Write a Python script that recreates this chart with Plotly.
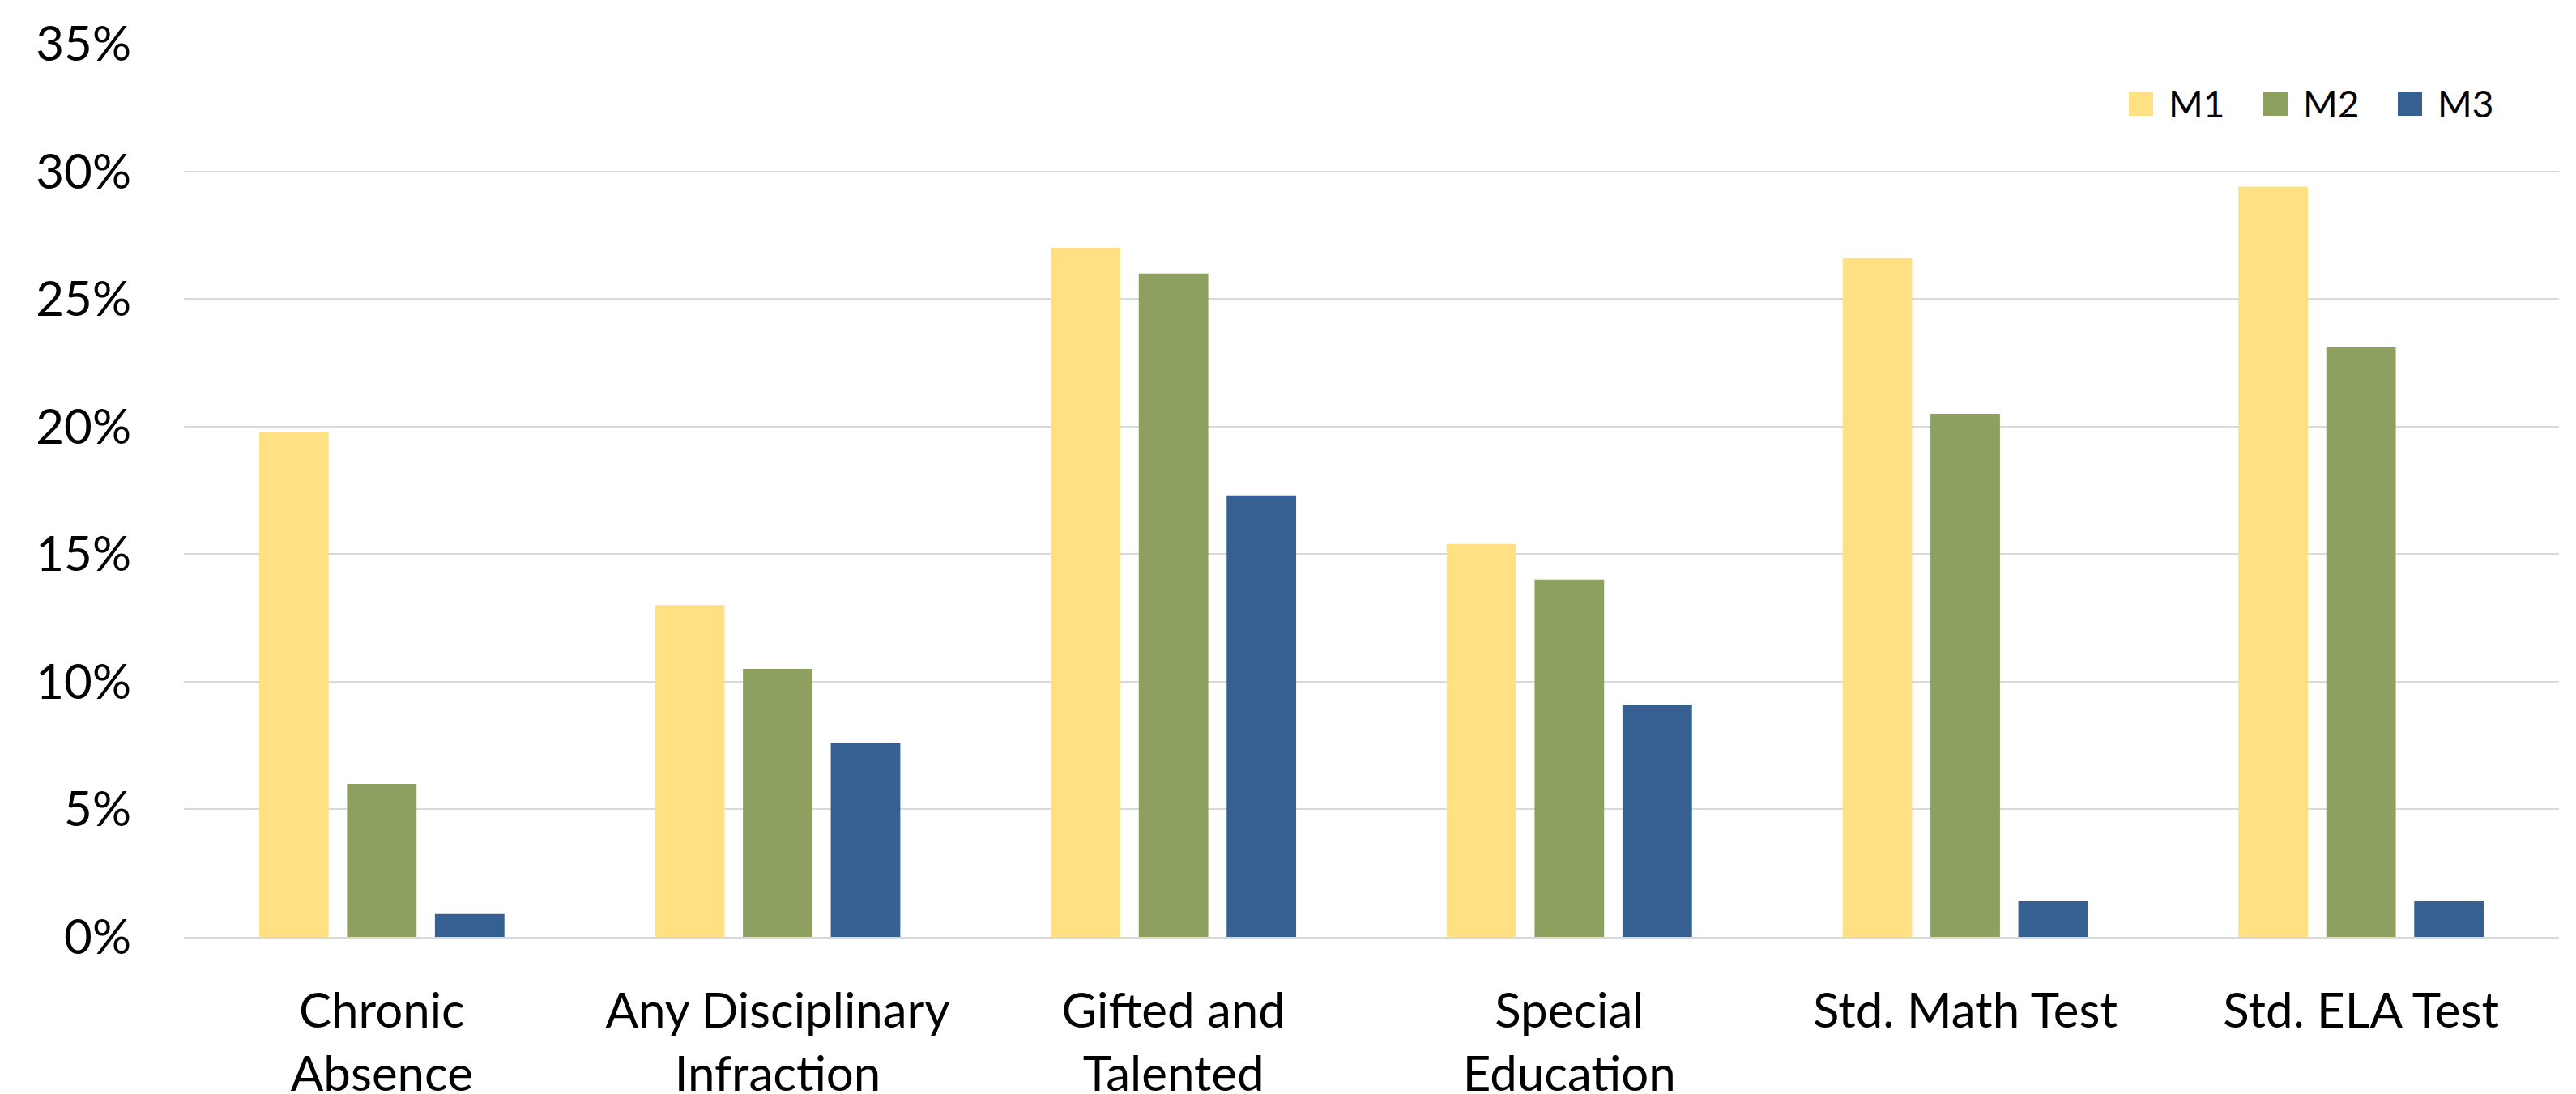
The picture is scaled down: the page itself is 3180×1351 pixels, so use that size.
import plotly.graph_objects as go

# Outcome categories (x-axis) and the share for each model
categories = [
    "Chronic<br>Absence",
    "Any Disciplinary<br>Infraction",
    "Gifted and<br>Talented",
    "Special<br>Education",
    "Std. Math Test",
    "Std. ELA Test",
]
series_names = ["M1", "M2", "M3"]
m1_values = [19.8, 13.0, 27.0, 15.4, 26.6, 29.4]
m2_values = [6.0, 10.5, 26.0, 14.0, 20.5, 23.1]
m3_values = [0.9, 7.6, 17.3, 9.1, 1.4, 1.4]
series_values = [m1_values, m2_values, m3_values]
series_colors = ["#FFE083", "#8EA05F", "#366092"]

y_ticks = [0, 5, 10, 15, 20, 25, 30, 35]
y_tick_labels = [f"{v}%" for v in y_ticks]

FONT = "Lato"
W, H = 3180, 1351
M_LEFT, M_RIGHT, M_TOP, M_BOTTOM = 227, 21, 54, 194
PLOT_W = W - M_LEFT - M_RIGHT
PLOT_H = H - M_TOP - M_BOTTOM

fig = go.Figure()
for name, vals, color in zip(series_names, series_values, series_colors):
    fig.add_trace(go.Bar(
        x=categories, y=vals, name=name,
        marker=dict(color=color, line=dict(width=0)),
        showlegend=False,
    ))

# Legend drawn as large square swatches with labels, top right
def px_to_paper_x(px):
    return (px - M_LEFT) / PLOT_W

def px_to_paper_y(py):
    return (H - M_BOTTOM - py) / PLOT_H

legend_x0 = 2628
legend_step = 166
swatch = 30
legend_cy = 128
shapes = []
annotations = []
for i, (name, color) in enumerate(zip(series_names, series_colors)):
    x0 = legend_x0 + i * legend_step
    shapes.append(dict(
        type="rect", xref="paper", yref="paper",
        x0=px_to_paper_x(x0), x1=px_to_paper_x(x0 + swatch),
        y0=px_to_paper_y(legend_cy + swatch / 2), y1=px_to_paper_y(legend_cy - swatch / 2),
        fillcolor=color, line=dict(width=0),
    ))
    annotations.append(dict(
        xref="paper", yref="paper",
        x=px_to_paper_x(x0 + swatch + 17), y=px_to_paper_y(legend_cy),
        xanchor="left", yanchor="middle", showarrow=False,
        text=name, font=dict(family=FONT, size=46, color="#000000"),
    ))

fig.update_layout(
    width=W, height=H,
    margin=dict(l=M_LEFT, r=M_RIGHT, t=M_TOP, b=M_BOTTOM, autoexpand=False),
    paper_bgcolor="#FFFFFF", plot_bgcolor="#FFFFFF",
    barmode="group", bargap=0.334, bargroupgap=0.209,
    font=dict(family=FONT, color="#000000"),
    shapes=shapes, annotations=annotations,
    showlegend=False,
)
fig.update_xaxes(
    showgrid=False, showline=True, linecolor="#D9D9D9", linewidth=2,
    ticks="", tickfont=dict(family=FONT, size=60, color="#000000"),
    ticklabelstandoff=38,
)
fig.update_yaxes(
    range=[0, 35], tickvals=y_ticks, ticktext=y_tick_labels,
    showgrid=True, gridcolor="#D9D9D9", gridwidth=2,
    zeroline=False, showline=False, ticks="",
    tickfont=dict(family=FONT, size=60, color="#000000"),
    ticklabelstandoff=64,
)

fig.write_html("out.html")
